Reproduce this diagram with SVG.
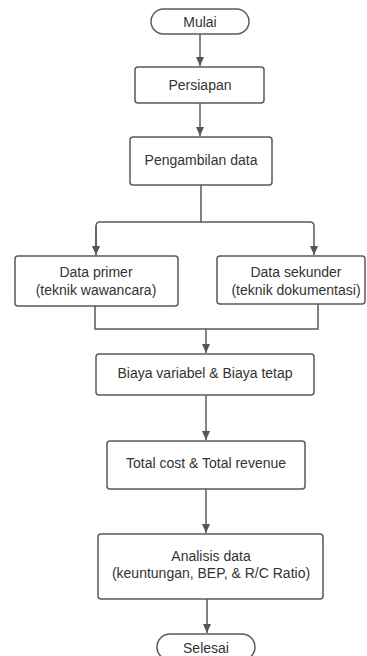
<svg xmlns="http://www.w3.org/2000/svg" width="367" height="656" viewBox="0 0 367 656">
<defs>
<marker id="arr" markerWidth="10" markerHeight="10" refX="9" refY="5" orient="auto" markerUnits="userSpaceOnUse">
<path d="M0,1 L9,5 L0,9 Z" fill="#555"/>
</marker>
<style>
.box{fill:#fff;stroke:#5a5a5a;stroke-width:1.5}
.t{font-family:"Liberation Sans",Arial,sans-serif;font-size:14px;fill:#333;text-anchor:middle;dominant-baseline:central}
.c{fill:none;stroke:#5a5a5a;stroke-width:1.5}
</style>
</defs>
<rect width="367" height="656" fill="#fff"/>
<g id="connectors">
<path class="c" d="M200,34 V66" marker-end="url(#arr)"/>
<path class="c" d="M200,103 V136" marker-end="url(#arr)"/>
<path class="c" d="M201,185 V222"/>
<path class="c" d="M96,255 V226 Q96,222 100,222 H310 Q314,222 314,226 V255" marker-end="url(#arr)"/>
<path class="c" d="M96,226 V255" marker-end="url(#arr)"/>
<path class="c" d="M95,306 V329 H318 V304"/>
<path class="c" d="M206,329 V353" marker-end="url(#arr)"/>
<path class="c" d="M206,395 V440" marker-end="url(#arr)"/>
<path class="c" d="M206,489 V533" marker-end="url(#arr)"/>
<path class="c" d="M207,599 V633" marker-end="url(#arr)"/>
</g>
<g id="mulai">
<rect class="box" x="151" y="9" width="98" height="25" rx="12.5"/>
<text class="t" x="200" y="22">Mulai</text>
</g>
<g id="persiapan">
<rect class="box" x="135" y="67" width="129" height="36" rx="3"/>
<text class="t" x="200" y="85">Persiapan</text>
</g>
<g id="pengambilan">
<rect class="box" x="130" y="137" width="142" height="48" rx="3"/>
<text class="t" x="201" y="160">Pengambilan data</text>
</g>
<g id="primer">
<rect class="box" x="15" y="256" width="163" height="50" rx="3"/>
<text class="t" x="96" y="272">Data primer</text>
<text class="t" x="96" y="290">(teknik wawancara)</text>
</g>
<g id="sekunder">
<rect class="box" x="217" y="256" width="148" height="48" rx="3"/>
<text class="t" x="296" y="272">Data sekunder</text>
<text class="t" x="296" y="290">(teknik dokumentasi)</text>
</g>
<g id="biaya">
<rect class="box" x="96" y="354" width="218" height="41" rx="3"/>
<text class="t" x="205" y="373">Biaya variabel &amp; Biaya tetap</text>
</g>
<g id="total">
<rect class="box" x="107" y="441" width="198" height="48" rx="3"/>
<text class="t" x="206" y="463">Total cost &amp; Total revenue</text>
</g>
<g id="analisis">
<rect class="box" x="98" y="534" width="225" height="65" rx="3"/>
<text class="t" x="211" y="556">Analisis data</text>
<text class="t" x="211" y="573">(keuntungan, BEP, &amp; R/C Ratio)</text>
</g>
<g id="selesai">
<rect class="box" x="157" y="634" width="98" height="26" rx="13"/>
<text class="t" x="206" y="648">Selesai</text>
</g>
</svg>
